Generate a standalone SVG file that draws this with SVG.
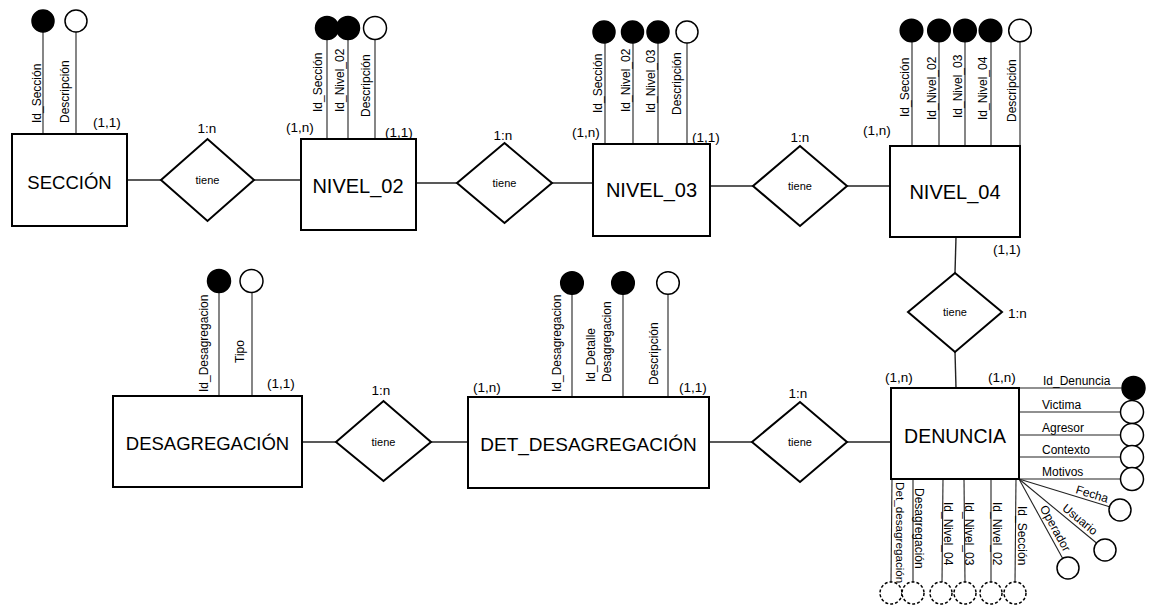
<svg xmlns="http://www.w3.org/2000/svg" width="1149" height="606" viewBox="0 0 1149 606">
<style>
.ent{fill:#fff;stroke:#000;stroke-width:2}
.rel{fill:#fff;stroke:#000;stroke-width:2}
.en{font-family:"Liberation Sans",Arial,sans-serif;font-size:19px;text-anchor:middle;fill:#000}
.rt{font-family:"Liberation Sans",Arial,sans-serif;font-size:11px;text-anchor:middle;fill:#000}
.card{font-family:"Liberation Sans",Arial,sans-serif;font-size:13.5px;fill:#000}
.mid{text-anchor:middle}
.al{font-family:"Liberation Sans",Arial,sans-serif;font-size:12px;fill:#000}
.conn{stroke:#222;stroke-width:1.4;fill:none}
.aln{stroke:#222;stroke-width:1.1;fill:none}
.key{fill:#000;stroke:#000;stroke-width:1.5}
.att{fill:#fff;stroke:#000;stroke-width:1.5}
.fk{fill:#fff;stroke:#000;stroke-width:1.5;stroke-dasharray:3 2}
</style>

<g id="connectors">
<line class="conn" x1="127" y1="180" x2="161" y2="180"/>
<line class="conn" x1="254" y1="180" x2="301" y2="180"/>
<line class="conn" x1="416" y1="183" x2="457" y2="183"/>
<line class="conn" x1="552" y1="183" x2="593" y2="183"/>
<line class="conn" x1="710" y1="186" x2="753" y2="186"/>
<line class="conn" x1="847" y1="186" x2="890" y2="186"/>
<line class="conn" x1="956" y1="237" x2="955" y2="273"/>
<line class="conn" x1="955" y1="352" x2="956" y2="388"/>
<line class="conn" x1="302" y1="442" x2="336" y2="442"/>
<line class="conn" x1="431" y1="442" x2="468" y2="442"/>
<line class="conn" x1="709" y1="442" x2="752" y2="442"/>
<line class="conn" x1="847" y1="442" x2="891" y2="442"/>
<text class="card" x="93" y="127">(1,1)</text>
<text class="card" x="286" y="132">(1,n)</text>
<text class="card" x="385" y="137">(1,1)</text>
<text class="card" x="572" y="137">(1,n)</text>
<text class="card" x="692" y="142">(1,1)</text>
<text class="card" x="863" y="135">(1,n)</text>
<text class="card" x="993" y="254">(1,1)</text>
<text class="card" x="267" y="388">(1,1)</text>
<text class="card" x="473" y="392">(1,n)</text>
<text class="card" x="679" y="392">(1,1)</text>
<text class="card" x="885" y="382">(1,n)</text>
<text class="card" x="988" y="382">(1,n)</text>
</g>

<g id="seccion">
<line class="aln" x1="43" y1="32" x2="43" y2="134"/>
<line class="aln" x1="76" y1="32" x2="76" y2="134"/>
<circle class="key" cx="43" cy="21" r="11"/>
<circle class="att" cx="76" cy="21" r="11"/>
<text class="al" transform="translate(41,123) rotate(-90)">Id_Sección</text>
<text class="al" transform="translate(69,123) rotate(-90)">Descripción</text>
<rect class="ent" x="12" y="134" width="115" height="92"/>
<text class="en" x="69.5" y="189" style="font-size:18.5px">SECCIÓN</text>
</g>

<g id="rel1">
<polygon class="rel" points="161,180 207.5,139 254,180 207.5,221"/>
<text class="rt" x="207.5" y="184">tiene</text>
<text class="card mid" x="207" y="133">1:n</text>
</g>

<g id="nivel02">
<line class="aln" x1="327" y1="40" x2="327" y2="139"/>
<line class="aln" x1="348" y1="40" x2="348" y2="139"/>
<line class="aln" x1="375" y1="40" x2="375" y2="139"/>
<circle class="key" cx="327" cy="28" r="11.5"/>
<circle class="key" cx="348" cy="28" r="11.5"/>
<circle class="att" cx="375" cy="28" r="11.5"/>
<text class="al" transform="translate(322,112) rotate(-90)">Id_Sección</text>
<text class="al" transform="translate(344,112) rotate(-90)">Id_Nivel_02</text>
<text class="al" transform="translate(370,117) rotate(-90)">Descripción</text>
<rect class="ent" x="301" y="139" width="115" height="91"/>
<text class="en" x="358" y="193" style="font-size:20px">NIVEL_02</text>
</g>

<g id="rel2">
<polygon class="rel" points="457,183 504.5,143 552,183 504.5,223"/>
<text class="rt" x="504.5" y="187">tiene</text>
<text class="card mid" x="503" y="140">1:n</text>
</g>

<g id="nivel03">
<line class="aln" x1="605" y1="43" x2="605" y2="144"/>
<line class="aln" x1="633" y1="43" x2="633" y2="144"/>
<line class="aln" x1="658" y1="43" x2="658" y2="144"/>
<line class="aln" x1="687" y1="43" x2="687" y2="144"/>
<circle class="key" cx="604" cy="32" r="11"/>
<circle class="key" cx="632.5" cy="32" r="11"/>
<circle class="key" cx="658" cy="32" r="11"/>
<circle class="att" cx="687" cy="32" r="11"/>
<text class="al" transform="translate(602,113) rotate(-90)">Id_Sección</text>
<text class="al" transform="translate(630,112) rotate(-90)">Id_Nivel_02</text>
<text class="al" transform="translate(655,113) rotate(-90)">Id_Nivel_03</text>
<text class="al" transform="translate(681,115) rotate(-90)">Descripción</text>
<rect class="ent" x="593" y="144" width="117" height="92"/>
<text class="en" x="651.5" y="197" style="font-size:20px">NIVEL_03</text>
</g>

<g id="rel3">
<polygon class="rel" points="753,186 800,146 847,186 800,226"/>
<text class="rt" x="800" y="190">tiene</text>
<text class="card mid" x="800" y="142">1:n</text>
</g>

<g id="nivel04">
<line class="aln" x1="912" y1="41" x2="912" y2="146"/>
<line class="aln" x1="939" y1="41" x2="939" y2="146"/>
<line class="aln" x1="965" y1="41" x2="965" y2="146"/>
<line class="aln" x1="991" y1="41" x2="991" y2="146"/>
<line class="aln" x1="1020" y1="41" x2="1020" y2="146"/>
<circle class="key" cx="911.5" cy="30.5" r="11.3"/>
<circle class="key" cx="939" cy="30.5" r="11.3"/>
<circle class="key" cx="965" cy="30.5" r="11.3"/>
<circle class="key" cx="990.5" cy="30.5" r="11.3"/>
<circle class="att" cx="1020" cy="30.5" r="11.3"/>
<text class="al" transform="translate(909,117) rotate(-90)">Id_Sección</text>
<text class="al" transform="translate(936,120) rotate(-90)">Id_Nivel_02</text>
<text class="al" transform="translate(962,118) rotate(-90)">Id_Nivel_03</text>
<text class="al" transform="translate(987,120) rotate(-90)">Id_Nivel_04</text>
<text class="al" transform="translate(1016,122) rotate(-90)">Descripción</text>
<rect class="ent" x="890" y="146" width="130" height="91"/>
<text class="en" x="955" y="199" style="font-size:20px">NIVEL_04</text>
</g>

<g id="rel4">
<polygon class="rel" points="908,312 955,273 1002,312 955,352"/>
<text class="rt" x="955" y="316">tiene</text>
<text class="card" x="1008" y="318">1:n</text>
</g>

<g id="desagregacion">
<line class="aln" x1="219" y1="292" x2="219" y2="396"/>
<line class="aln" x1="252" y1="292" x2="252" y2="396"/>
<circle class="key" cx="219" cy="281" r="11.5"/>
<circle class="att" cx="251.5" cy="281" r="11.5"/>
<text class="al" transform="translate(208,392) rotate(-90)">Id_Desagregacion</text>
<text class="al" transform="translate(243.5,363) rotate(-90)">Tipo</text>
<rect class="ent" x="113" y="396" width="189" height="91"/>
<text class="en" x="207.5" y="450" style="font-size:18.5px">DESAGREGACIÓN</text>
</g>

<g id="rel5">
<polygon class="rel" points="336,442 383.5,401 431,442 383.5,481"/>
<text class="rt" x="383.5" y="446">tiene</text>
<text class="card mid" x="381" y="395">1:n</text>
</g>

<g id="det_desagregacion">
<line class="aln" x1="572" y1="294" x2="572" y2="397"/>
<line class="aln" x1="623" y1="294" x2="623" y2="397"/>
<line class="aln" x1="668" y1="294" x2="668" y2="397"/>
<circle class="key" cx="572" cy="283" r="11.3"/>
<circle class="key" cx="623" cy="283" r="11.3"/>
<circle class="att" cx="668" cy="283" r="11.3"/>
<text class="al" transform="translate(561,392) rotate(-90)">Id_Desagregacion</text>
<text class="al" transform="translate(595,382) rotate(-90)">Id_Detalle</text>
<text class="al" transform="translate(611,382) rotate(-90)">Desagregacion</text>
<text class="al" transform="translate(658,385) rotate(-90)">Descripción</text>
<rect class="ent" x="468" y="397" width="241" height="91"/>
<text class="en" x="588.5" y="451">DET_DESAGREGACIÓN</text>
</g>

<g id="rel6">
<polygon class="rel" points="752,442 800,402 847,442 800,482"/>
<text class="rt" x="800" y="446">tiene</text>
<text class="card mid" x="798" y="398">1:n</text>
</g>

<g id="denuncia">
<line class="aln" x1="1019" y1="388" x2="1121.5" y2="388"/>
<line class="aln" x1="1019" y1="412" x2="1120.5" y2="412"/>
<line class="aln" x1="1019" y1="435" x2="1120.5" y2="435"/>
<line class="aln" x1="1019" y1="457" x2="1120.5" y2="457"/>
<line class="aln" x1="1019" y1="479" x2="1120.5" y2="479"/>
<circle class="key" cx="1133.5" cy="388" r="11.5"/>
<circle class="att" cx="1132" cy="412" r="11.5"/>
<circle class="att" cx="1132" cy="435" r="11.5"/>
<circle class="att" cx="1132" cy="457" r="11.5"/>
<circle class="att" cx="1132" cy="479" r="11.5"/>
<text class="al" x="1043" y="385">Id_Denuncia</text>
<text class="al" x="1042" y="409">Victima</text>
<text class="al" x="1042" y="432">Agresor</text>
<text class="al" x="1042" y="454">Contexto</text>
<text class="al" x="1042" y="476">Motivos</text>
<line class="aln" x1="1019" y1="479" x2="1109.5" y2="506.8"/>
<line class="aln" x1="1019" y1="479" x2="1096.5" y2="543"/>
<line class="aln" x1="1019" y1="479" x2="1062.7" y2="558.4"/>
<circle class="att" cx="1120" cy="510" r="11"/>
<circle class="att" cx="1105" cy="550" r="11"/>
<circle class="att" cx="1068" cy="568" r="11"/>
<text class="al" transform="translate(1075,493) rotate(17.1)">Fecha</text>
<text class="al" transform="translate(1061.5,509.5) rotate(39.5)">Usuario</text>
<text class="al" transform="translate(1039.5,508) rotate(61.2)">Operador</text>
<line class="aln" x1="892" y1="479" x2="891" y2="582"/>
<line class="aln" x1="913" y1="479" x2="913" y2="582"/>
<line class="aln" x1="943" y1="479" x2="942" y2="582"/>
<line class="aln" x1="964" y1="479" x2="965" y2="582"/>
<line class="aln" x1="991" y1="479" x2="991" y2="582"/>
<line class="aln" x1="1016" y1="479" x2="1015" y2="582"/>
<circle class="fk" cx="891" cy="593" r="11"/>
<circle class="fk" cx="913" cy="593" r="11"/>
<circle class="fk" cx="941" cy="593" r="11"/>
<circle class="fk" cx="965" cy="593" r="11"/>
<circle class="fk" cx="991" cy="593" r="11"/>
<circle class="fk" cx="1015" cy="593" r="11"/>
<text class="al" transform="translate(896,482) rotate(90)" style="font-size:11.7px">Det_desagregación</text>
<text class="al" transform="translate(914.5,488) rotate(90)">Desagregación</text>
<text class="al" transform="translate(943.5,502) rotate(90)">Id_Nivel_04</text>
<text class="al" transform="translate(965,502) rotate(90)">Id_Nivel_03</text>
<text class="al" transform="translate(992.5,502) rotate(90)">Id_Nivel_02</text>
<text class="al" transform="translate(1018,506) rotate(90)">Id_Sección</text>
<rect class="ent" x="891" y="388" width="128" height="91"/>
<text class="en" x="955" y="443" style="font-size:19.5px">DENUNCIA</text>
</g>
</svg>
